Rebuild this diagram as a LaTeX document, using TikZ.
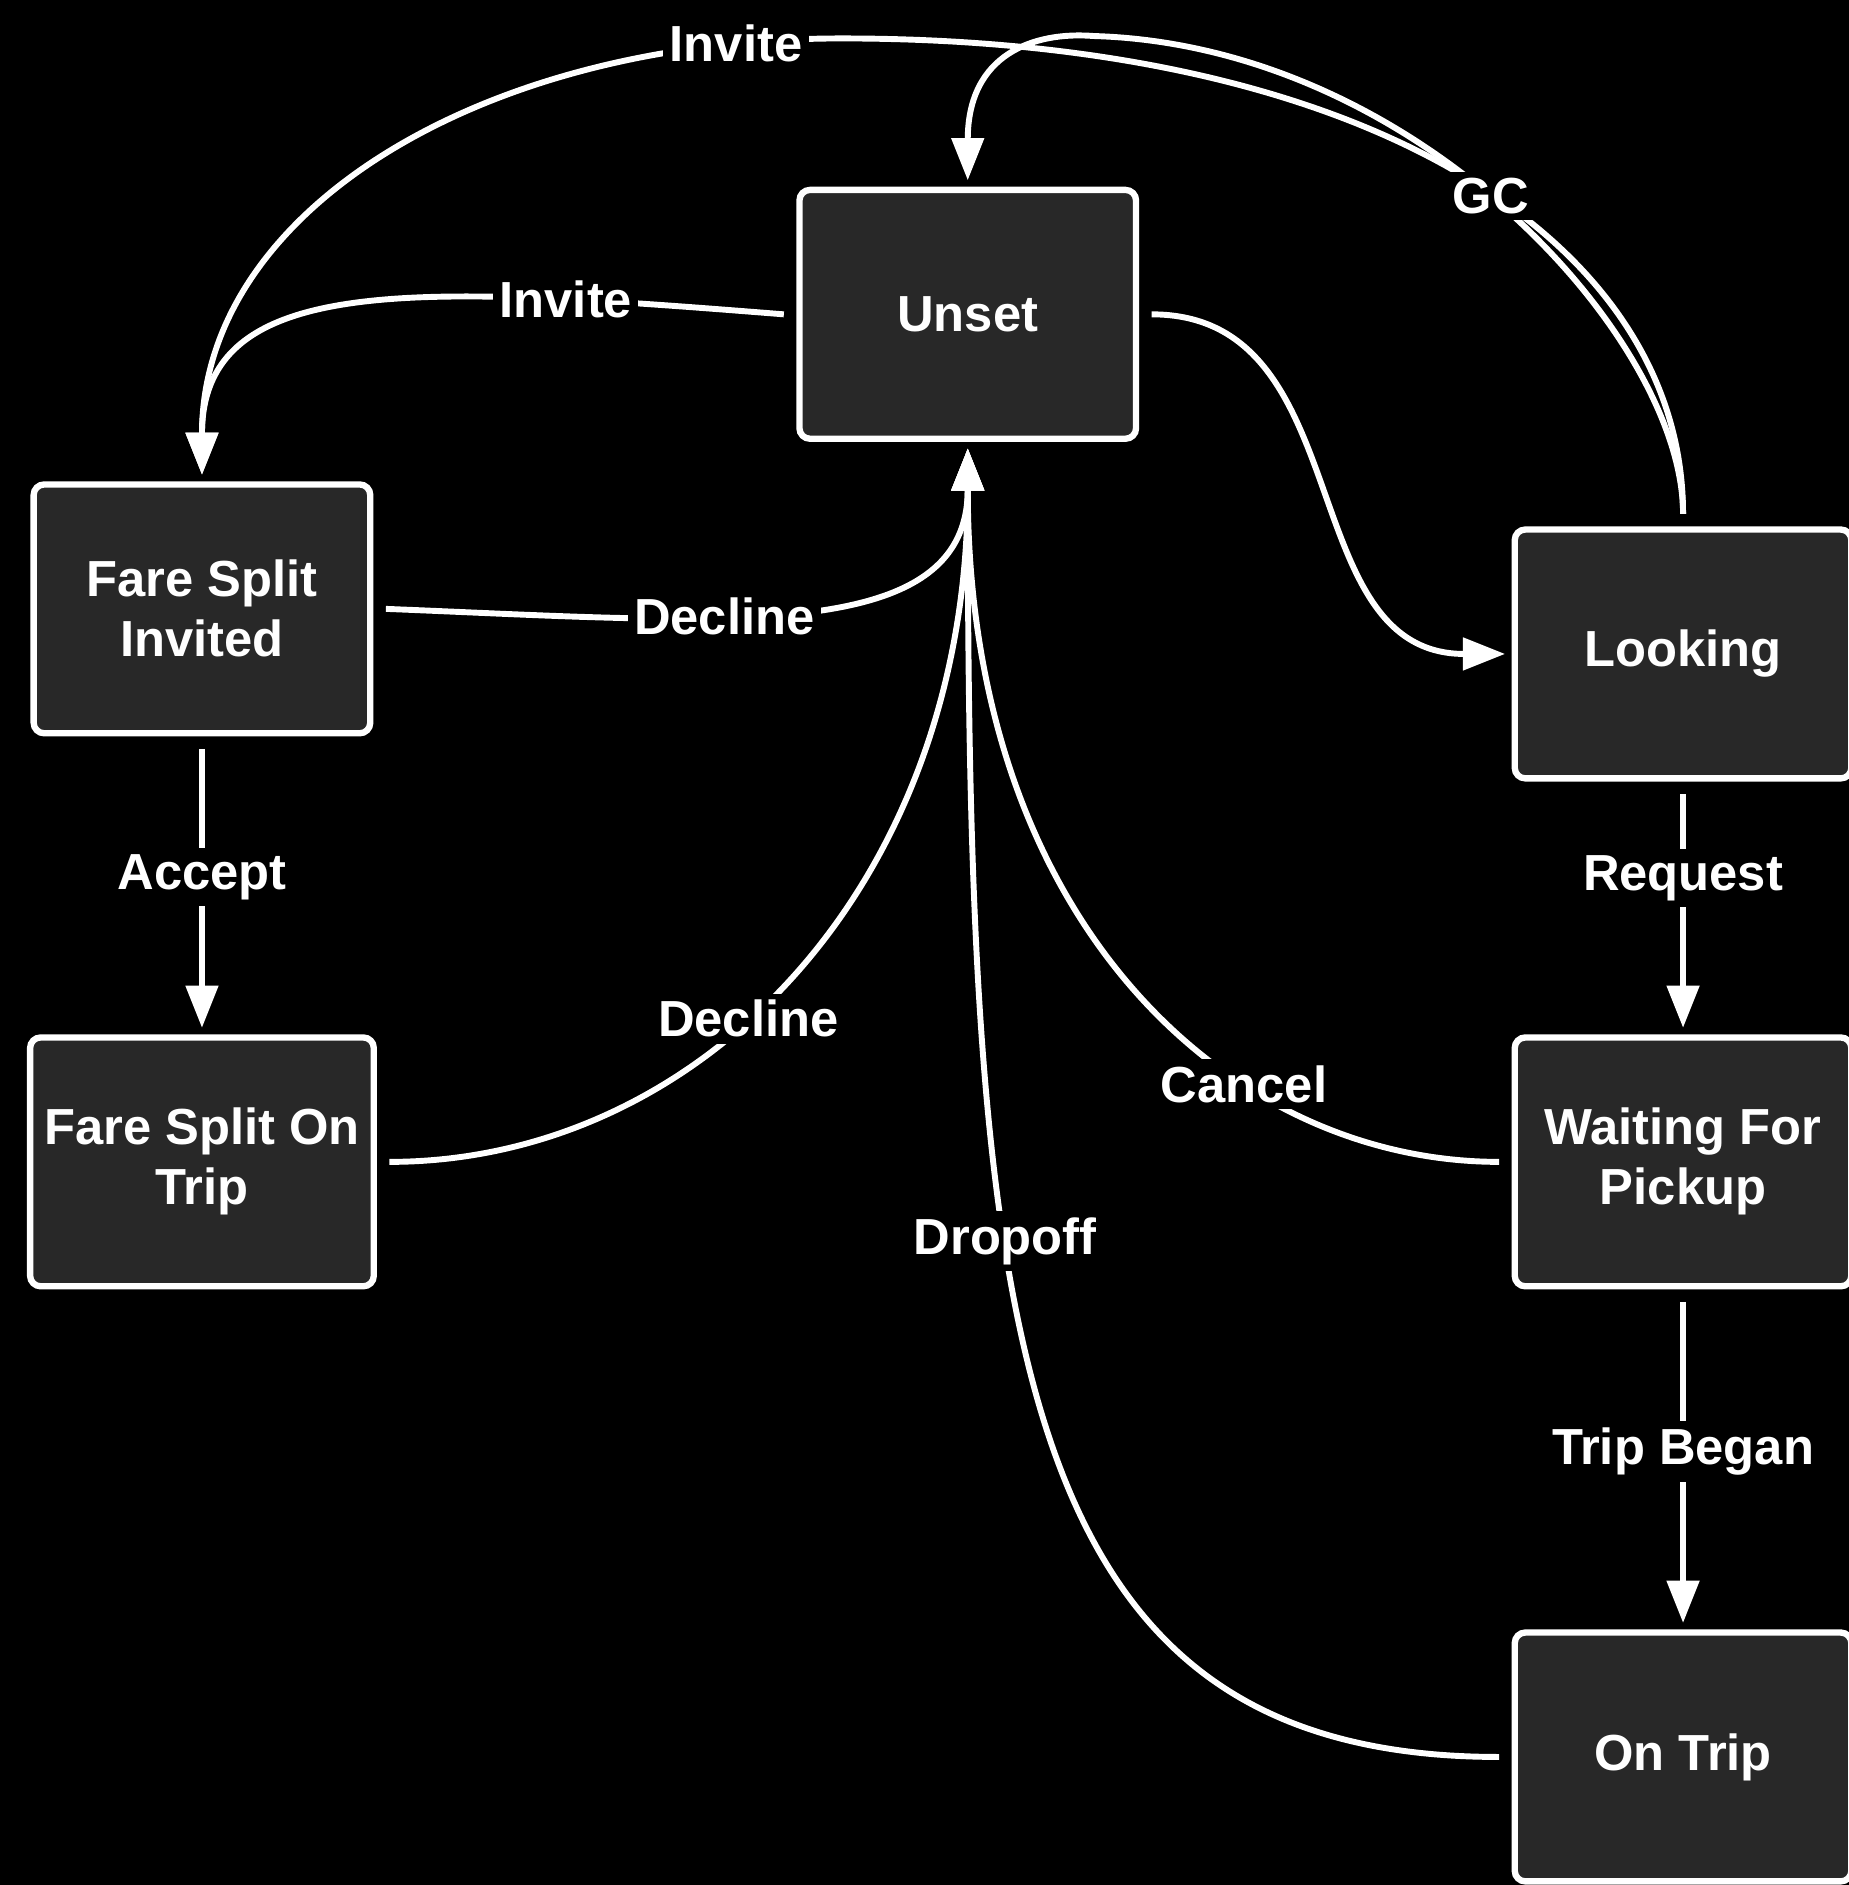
\documentclass[tikz,border=0pt]{standalone}
\usepackage{fontspec}
\setmainfont{Liberation Sans}
\usetikzlibrary{arrows.meta}

\begin{document}
\begin{tikzpicture}
  [box/.style={rectangle,rounded corners=2.5pt,draw=white,line width=1.5pt,
     fill={rgb,255:red,40;green,40;blue,40},text=white,align=center,
     minimum width=2.8cm,minimum height=2.07cm,outer sep=0.13cm,
     font=\fontsize{12}{14.2}\selectfont\bfseries},
   conn/.style={draw=white,line width=1.4pt,shorten >=-0.05cm,
     -{Triangle[length=10pt,width=7.5pt]}},
   lbl/.style={fill=black,text=white,inner sep=1.5pt,
     font=\fontsize{12}{14.2}\selectfont\bfseries}]
\useasboundingbox (0,0) rectangle (15.38,15.68);
  \fill[black] (0,0) rectangle (15.38,15.68);

  % Estados
  \node[box] (unset) at (8.05,13.065) {Unset};
  \node[box] (inv)   at (1.68,10.615) {Fare Split\\Invited};
  \node[box] (onfs)  at (1.68,6.015)  {Fare Split On\\Trip};
  \node[box] (look)  at (14.0,10.24)  {Looking};
  \node[box] (wait)  at (14.0,6.015)  {Waiting For\\Pickup};
  \node[box] (trip)  at (14.0,1.065)  {On Trip};

  % Puntos altos de los arcos superiores
  \coordinate (invtop) at (7.0,15.36);
  \coordinate (gctop)  at (9.1,15.38);

  % Arcos superiores
  \draw[conn] (look.north) .. controls +(0,2.2) and +(4.5,0) .. (invtop)
    .. controls +(-3.0,0) and +(0,2.14) .. (inv.north) node[lbl,pos=0.1] {Invite};
  \draw[conn] (look.north) .. controls +(0,1.45) and +(2.7,-0.08) .. (gctop) node[lbl,pos=0.53] {GC}
    .. controls +(-0.5,0.04) and +(0,1.0) .. (unset.north);

  % Transiciones curvas
  \draw[conn] (unset.west) .. controls +(-3.02,0.24) and +(0,1.64) .. (inv.north) node[lbl,pos=0.22] {Invite};
  \draw[conn] (unset.east) .. controls +(1.74,0) and +(-1.73,0) .. (look.west);
  \draw[conn] (inv.east) .. controls +(2.78,-0.11) and +(0,-1.6) .. (unset.south) node[lbl,pos=0.385] {Decline};
  \draw[conn] (onfs.east) .. controls +(2.58,0) and +(0,-3.6) .. (unset.south) node[lbl,pos=0.43] {Decline};
  \draw[conn] (wait.west) .. controls +(-2.24,0) and +(0,-3.9) .. (unset.south) node[lbl,pos=0.33] {Cancel};
  \draw[conn] (trip.west) .. controls +(-4.04,0) and +(0,-7.4) .. (unset.south) node[lbl,pos=0.635] {Dropoff};

  % Transiciones verticales
  \foreach \from/\to/\p/\lab in {inv/onfs/0.47/Accept, look/wait/0.37/Request, wait/trip/0.475/Trip Began}
    \draw[conn] (\from) -- node[lbl,pos=\p] {\lab} (\to);
\end{tikzpicture}
\end{document}
